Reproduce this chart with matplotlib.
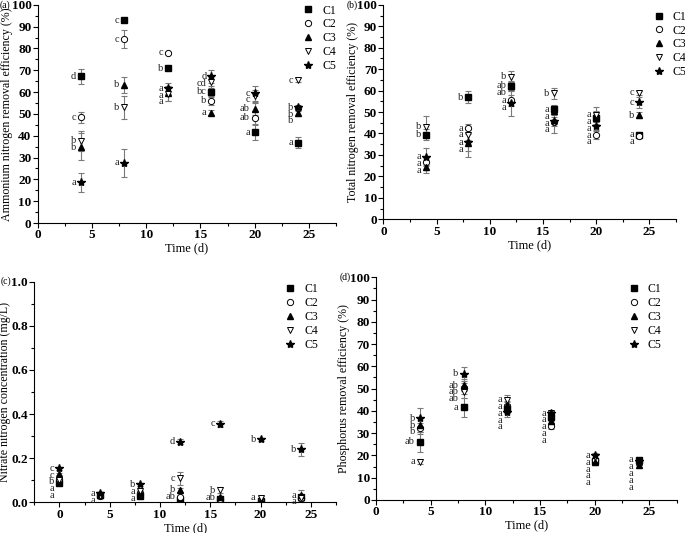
import numpy as np
import matplotlib; matplotlib.use("Agg")
import matplotlib.pyplot as plt
from matplotlib.ticker import MultipleLocator

plt.rcParams['font.family'] = ['Liberation Serif', 'DejaVu Serif']
plt.rcParams['mathtext.fontset'] = 'stix'

series = ["C1", "C2", "C3", "C4", "C5"]
days = [4, 8, 12, 16, 20, 24]
days_c = [0, 4, 8, 12, 16, 20, 24]

# (a) ammonium nitrogen removal efficiency (%)
nh4 = [[67.3, 93.0, 71.0, 60.2, 41.5, 36.8],
       [48.5, 84.3, 78.0, 56.0, 48.2, 52.5],
       [35.0, 63.3, 59.5, 50.6, 52.3, 50.6],
       [37.7, 53.0, 59.0, 64.5, 58.0, 65.5],
       [18.6, 27.5, 61.7, 67.2, 59.5, 53.0]]
nh4_err = [[3.5, 0.8, 0.8, 2.5, 3.5, 2.5],
           [2.5, 4.3, 0.5, 2.0, 3.0, 1.0],
           [6.3, 3.7, 3.5, 1.0, 3.0, 1.5],
           [4.5, 5.3, 3.0, 2.5, 3.0, 0.8],
           [4.3, 6.2, 2.5, 3.0, 3.5, 1.0]]
nh4_sig = [["d", "c", "b", "bc", "a", "a"],
           ["c", "c", "c", "b", "ab", "b"],
           ["b", "b", "a", "a", "ab", "b"],
           ["b", "b", "a", "cd", "c", "c"],
           ["a", "a", "a", "d", "c", "b"]]

# (b) total nitrogen removal efficiency (%)
tn = [[39.5, 57.0, 62.3, 51.2, 47.3, 39.3],
      [26.8, 42.5, 55.5, 45.5, 39.5, 38.8],
      [24.2, 35.4, 62.0, 50.5, 47.0, 48.6],
      [43.2, 39.5, 66.5, 58.7, 48.8, 59.0],
      [29.2, 35.8, 54.0, 45.8, 43.6, 54.5]]
tn_err = [[2.5, 3.0, 2.0, 2.0, 3.0, 0.8],
          [2.0, 2.0, 2.5, 2.0, 2.0, 0.8],
          [2.5, 6.5, 2.0, 2.0, 3.0, 1.5],
          [5.0, 2.5, 2.5, 2.5, 3.5, 1.0],
          [4.0, 4.0, 5.7, 5.8, 2.5, 2.5]]
tn_sig = [["b", "b", "ab", "a", "a", "a"],
          ["a", "a", "a", "a", "a", "a"],
          ["a", "a", "ab", "a", "a", "b"],
          ["b", "a", "b", "b", "a", "c"],
          ["a", "a", "a", "a", "a", "c"]]

# (c) nitrate nitrogen concentration (mg/L)
no3 = [[0.086, 0.035, 0.030, 0.010, 0.015, 0.005, 0.025],
       [0.104, 0.030, 0.040, 0.025, 0.015, 0.008, 0.020],
       [0.128, 0.035, 0.045, 0.056, 0.022, 0.010, 0.033],
       [0.100, 0.028, 0.050, 0.109, 0.055, 0.020, 0.020],
       [0.154, 0.040, 0.082, 0.275, 0.355, 0.285, 0.240]]
no3_err = [[0.005, 0.004, 0.005, 0.004, 0.004, 0.003, 0.005],
           [0.006, 0.004, 0.005, 0.005, 0.004, 0.003, 0.005],
           [0.006, 0.005, 0.006, 0.008, 0.006, 0.004, 0.025],
           [0.006, 0.005, 0.006, 0.030, 0.015, 0.010, 0.006],
           [0.006, 0.005, 0.006, 0.013, 0.015, 0.008, 0.030]]
no3_sig = [["a", "a", "a", "a", "a", "a", "a"],
           ["b", "a", "a", "ab", "a", "a", "a"],
           ["c", "a", "a", "b", "ab", "a", "a"],
           ["a", "a", "a", "c", "b", "a", "a"],
           ["c", "a", "b", "d", "c", "b", "b"]]

# (d) phosphorus removal efficiency (%)
tp = [[26.2, 41.6, 41.0, 37.4, 17.5, 18.0],
      [32.2, 50.1, 42.0, 33.2, 18.0, 16.5],
      [33.7, 51.6, 42.6, 35.6, 17.0, 15.7],
      [17.2, 48.5, 45.0, 39.0, 19.5, 17.0],
      [36.7, 56.6, 39.7, 39.0, 20.0, 17.5]]
tp_err = [[4.5, 4.3, 2.0, 2.0, 1.5, 1.0],
          [2.5, 2.5, 2.0, 1.5, 1.0, 1.0],
          [3.0, 2.5, 2.0, 2.0, 1.2, 1.2],
          [1.0, 2.5, 2.0, 1.0, 1.0, 1.0],
          [4.5, 3.0, 2.5, 1.0, 1.0, 1.0]]
tp_sig = [["ab", "a", "a", "a", "a", "a"],
          ["b", "ab", "a", "a", "a", "a"],
          ["b", "ab", "a", "a", "a", "a"],
          ["a", "ab", "a", "a", "a", "a"],
          ["b", "b", "a", "a", "a", "a"]]

MK = [dict(marker="s", mfc="black", mec="black", ms=4.2),
      dict(marker="o", mfc="white", mec="black", ms=4.5, mew=0.7),
      dict(marker="^", mfc="black", mec="black", ms=5),
      dict(marker="v", mfc="white", mec="black", ms=5, mew=0.7),
      dict(marker="*", mfc="black", mec="black", ms=6)]

fig = plt.figure(figsize=(6.85, 5.33), dpi=100)

def panel(rect, x, vals, errs, sig, ylim, ymaj, ymin, xlim, ylabel, tag, fmt,
          leg_anchor, ylab_x, tag_x):
    ax = fig.add_axes(rect)
    for k in range(5):
        ax.errorbar(x, vals[k], yerr=errs[k], fmt="none", ecolor="#7a7a7a",
                    elinewidth=0.8, capsize=2.5, capthick=0.8, zorder=2)
    for k in range(5):
        ax.plot(x, vals[k], ls="none", label=series[k], zorder=3, **MK[k])
    ax.set_xlim(*xlim); ax.set_ylim(*ylim)
    # significance letters, stacked so they don't collide
    h_px = rect[3]*fig.get_figheight()*fig.dpi
    gap = 6.8*(ylim[1]-ylim[0])/h_px
    for j, xv in enumerate(x):
        order = sorted(range(5), key=lambda k: -vals[k][j])
        prev = None
        for k in order:
            yv = vals[k][j] if prev is None else min(vals[k][j], prev-gap)
            prev = yv
            ax.annotate(sig[k][j], (xv, yv), xytext=(-3.5, 0), textcoords="offset points",
                        ha="right", va="center", fontsize=7.5, color="#222222")
    for s in ("top", "right"):
        ax.spines[s].set_visible(False)
    ax.xaxis.set_major_locator(MultipleLocator(5)); ax.xaxis.set_minor_locator(MultipleLocator(2.5))
    ax.yaxis.set_major_locator(MultipleLocator(ymaj)); ax.yaxis.set_minor_locator(MultipleLocator(ymin))
    ax.tick_params(which="major", direction="out", length=3.5, width=0.8, labelsize=9.5, pad=1)
    ax.tick_params(which="minor", direction="out", length=2, width=0.8)
    ax.yaxis.set_major_formatter(plt.FormatStrFormatter(fmt))
    for lb in ax.get_xticklabels() + ax.get_yticklabels():
        lb.set_fontweight("bold")
    ax.set_xlabel("Time (d)", fontsize=9, labelpad=1)
    ax.set_ylabel(ylabel, fontsize=8.6)
    ax.yaxis.set_label_coords(ylab_x, 0.5)
    ax.legend(loc="upper right", bbox_to_anchor=leg_anchor, frameon=False, fontsize=8.5,
              handletextpad=0.6, labelspacing=0.16, borderpad=0, handlelength=1.2)
    ax.text(tag_x, 1.0, tag, transform=ax.transAxes, fontsize=7, ha="left", va="center")
    return ax

panel([0.055, 0.5816, 0.4355, 0.4094], days, nh4, nh4_err, nh4_sig, (0, 100), 10, 5,
      (0, 27.5), "Ammonium nitrogen removal efficiency (%)", "(a)", "%d",
      (1.02, 1.028), -0.083, -0.126)
panel([0.5596, 0.5886, 0.4274, 0.4024], days, tn, tn_err, tn_sig, (0, 100), 10, 5,
      (0, 27.5), "Total nitrogen removal efficiency (%)", "(b)", "%d",
      (1.056, 1.0), -0.083, -0.125)
panel([0.050, 0.0576, 0.4405, 0.4139], days_c, no3, no3_err, no3_sig, (0, 1.0), 0.2, 0.1,
      (-2.5, 27.5), "Nitrate nitrogen concentration (mg/L)", "(c)", "%.1f",
      (0.96, 1.02), -0.077, -0.112)
panel([0.549, 0.062, 0.439, 0.4178], days, tp, tp_err, tp_sig, (0, 100), 10, 5,
      (0, 27.5), "Phosphorus removal efficiency (%)", "(d)", "%d",
      (0.97, 1.0), -0.086, -0.12)

fig.savefig("out.png", dpi=100)
